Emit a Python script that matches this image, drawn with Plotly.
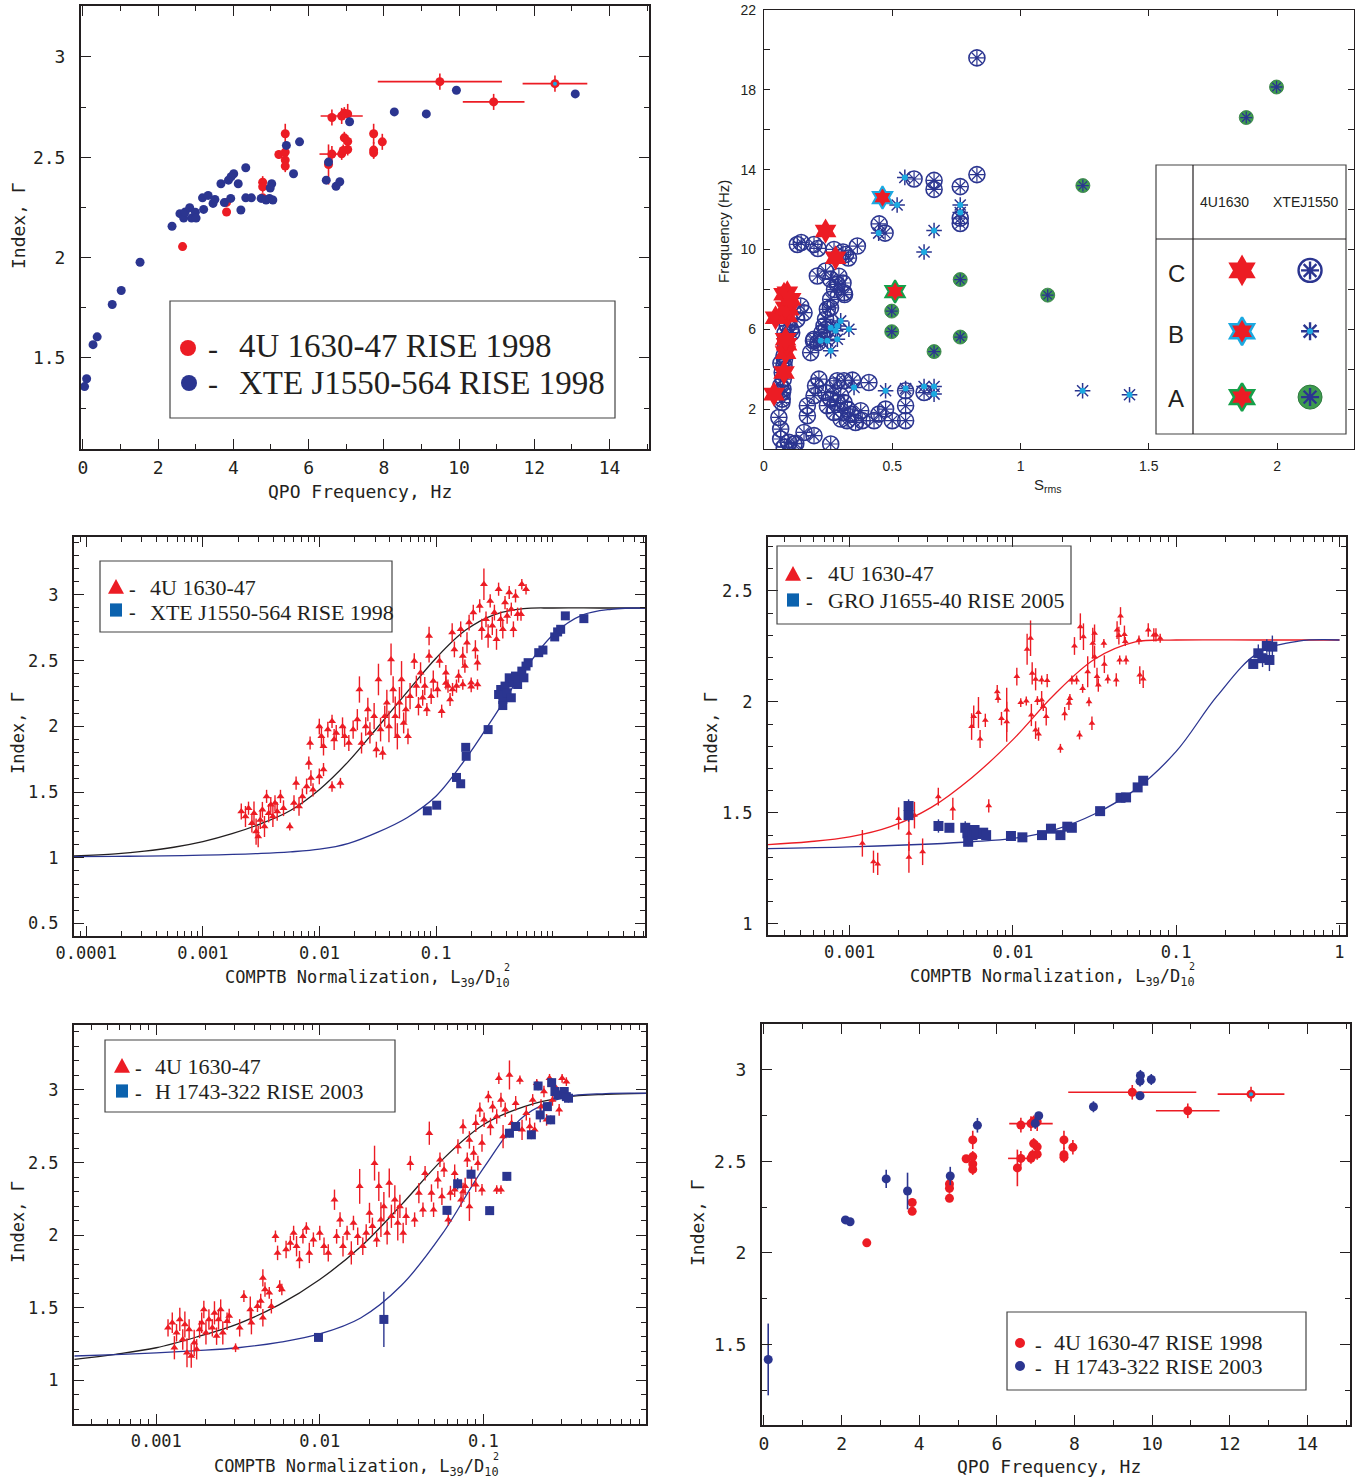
import plotly.graph_objects as go

W, H = 1360, 1480
INK = "#231F20"
RED = "#EC1C24"
NAVY = "#2B3590"
LEG_BLUE = "#0B62AE"
CYAN = "#1BA9E1"
GREEN = "#3E9B4F"
MONO = "DejaVu Sans Mono"
SERIF = "Liberation Serif"
SANS = "Liberation Sans"

# ---------------------------------------------------------------------------
# QPO frequency (Hz), photon index, x-error, y-error : 4U 1630-47 rise 1998
QPO_4U1630 = [
    (9.49, 2.877, 1.65, 0.04), (12.55, 2.867, 0.86, 0.04), (10.92, 2.776, 0.82, 0.04),
    (6.62, 2.698, 0.0, 0.04), (6.88, 2.706, 0.56, 0.04), (7.04, 2.716, 0.0, 0.05),
    (6.95, 2.720, 0.0, 0.03), (6.62, 2.516, 0.33, 0.04), (6.53, 2.464, 0.0, 0.10),
    (6.88, 2.517, 0.0, 0.03), (6.95, 2.597, 0.0, 0.03), (7.04, 2.579, 0.0, 0.03),
    (7.04, 2.539, 0.0, 0.03), (6.92, 2.534, 0.0, 0.03), (7.73, 2.617, 0.0, 0.05),
    (7.73, 2.536, 0.0, 0.04), (7.73, 2.522, 0.0, 0.03), (7.96, 2.577, 0.0, 0.04),
    (5.38, 2.617, 0.0, 0.05), (5.21, 2.514, 0.0, 0.02), (5.38, 2.526, 0.0, 0.03),
    (5.38, 2.486, 0.0, 0.03), (5.38, 2.456, 0.0, 0.03), (4.78, 2.376, 0.0, 0.03),
    (4.78, 2.353, 0.0, 0.03), (4.78, 2.298, 0.0, 0.02), (3.82, 2.275, 0.0, 0.02),
    (3.82, 2.227, 0.0, 0.02), (2.65, 2.055, 0.0, 0.02),
]
QPO_CYAN = [(12.55, 2.867)]

# XTE J1550-564 rise 1998 : QPO frequency (Hz), photon index
QPO_J1550 = [
    (0.045, 1.357), (0.10, 1.396), (0.27, 1.566), (0.38, 1.605), (0.78, 1.766),
    (1.02, 1.836), (1.52, 1.977), (2.37, 2.156), (2.58, 2.219), (2.68, 2.197),
    (2.72, 2.227), (2.84, 2.249), (2.89, 2.197), (2.99, 2.226), (3.01, 2.197),
    (3.18, 2.298), (3.21, 2.240), (3.33, 2.310), (3.46, 2.270), (3.51, 2.290),
    (3.67, 2.368), (3.76, 2.274), (3.87, 2.386), (3.94, 2.403), (3.93, 2.295),
    (4.01, 2.418), (4.13, 2.368), (4.20, 2.237), (4.33, 2.448), (4.33, 2.298),
    (4.48, 2.298), (4.74, 2.295), (4.87, 2.287), (4.96, 2.295), (5.02, 2.368),
    (4.98, 2.347), (5.05, 2.287), (5.41, 2.559), (5.60, 2.418), (5.76, 2.577),
    (6.47, 2.386), (6.53, 2.476), (6.73, 2.355), (6.83, 2.378), (7.09, 2.677),
    (8.28, 2.726), (9.13, 2.716), (9.93, 2.834), (13.09, 2.816),
]

# H 1743-322 rise 2003 : QPO frequency (Hz), photon index, y-error
QPO_H1743 = [
    (0.11, 1.418, 0.196), (2.10, 2.180, 0.02), (2.22, 2.170, 0.01), (3.15, 2.404, 0.05),
    (3.70, 2.338, 0.10), (4.80, 2.420, 0.05), (5.50, 2.697, 0.04), (6.99, 2.707, 0.03),
    (7.08, 2.749, 0.02), (8.49, 2.798, 0.03), (9.69, 2.858, 0.01), (9.69, 2.938, 0.03),
    (9.70, 2.969, 0.03), (9.98, 2.947, 0.03),
]

# S_rms versus QPO frequency (Hz), states A / B / C
SRMS_C_4U = [
    (0.039, 2.75), (0.078, 3.83), (0.084, 4.83), (0.088, 5.25), (0.084, 5.50),
    (0.045, 6.58), (0.091, 6.67), (0.097, 7.00), (0.084, 7.08), (0.091, 7.83),
    (0.078, 7.75), (0.104, 7.50), (0.279, 9.58), (0.240, 10.92),
]
SRMS_B_4U = [(0.462, 12.60)]
SRMS_A_4U = [(0.511, 7.89)]
SRMS_C_XTE = [
    (0.830, 19.60), (0.830, 13.75), (0.585, 13.53), (0.663, 13.46), (0.663, 13.01),
    (0.765, 13.15), (0.765, 11.57), (0.765, 11.30), (0.449, 11.28), (0.472, 10.82),
    (0.130, 10.25), (0.145, 10.35), (0.195, 10.25), (0.210, 10.05), (0.273, 10.00),
    (0.308, 9.87), (0.318, 9.75), (0.329, 9.57), (0.364, 10.17),
    (0.208, 8.67), (0.240, 8.92), (0.260, 8.50), (0.286, 8.25), (0.292, 8.66),
    (0.308, 8.32), (0.312, 7.83), (0.275, 7.99), (0.314, 7.74), (0.260, 7.50),
    (0.247, 7.00), (0.259, 7.07), (0.240, 6.50), (0.234, 6.17), (0.242, 5.99),
    (0.226, 5.83), (0.195, 5.50), (0.193, 5.41), (0.182, 4.83), (0.210, 5.33),
    (0.143, 7.17), (0.156, 6.83), (0.128, 6.49), (0.104, 6.00), (0.108, 5.83),
    (0.084, 5.50), (0.078, 4.67), (0.071, 3.83), (0.065, 3.17), (0.071, 2.50),
    (0.072, 2.83), (0.075, 3.50), (0.078, 4.16), (0.080, 4.50), (0.085, 5.16),
    (0.070, 2.33), (0.066, 4.30), (0.074, 3.00), (0.082, 5.80), (0.090, 6.20),
    (0.058, 1.58), (0.065, 1.00), (0.065, 0.50), (0.097, 0.33), (0.117, 0.25),
    (0.079, 0.09), (0.156, 0.83), (0.195, 0.67), (0.260, 0.25), (0.124, 0.28),
    (0.169, 2.17), (0.169, 1.67), (0.201, 3.17), (0.214, 3.50), (0.195, 2.67),
    (0.240, 2.83), (0.260, 2.50), (0.273, 3.17), (0.286, 3.42), (0.312, 3.42),
    (0.299, 2.67), (0.312, 2.33), (0.325, 2.00), (0.338, 1.75), (0.357, 1.33),
    (0.377, 1.92), (0.383, 1.42), (0.409, 3.33), (0.429, 1.42), (0.448, 1.75),
    (0.474, 2.00), (0.500, 1.42), (0.552, 2.92), (0.552, 2.17), (0.552, 1.42),
    (0.624, 2.83), (0.273, 1.83), (0.286, 2.33), (0.247, 2.17), (0.300, 1.50),
    (0.324, 1.42), (0.345, 3.45),
]
SRMS_B_XTE = [
    (0.260, 6.08), (0.286, 6.17), (0.299, 6.42), (0.331, 6.00), (0.279, 5.92),
    (0.221, 5.42), (0.247, 5.42), (0.286, 5.50), (0.260, 4.92), (0.351, 3.08),
    (0.474, 2.92), (0.552, 3.03), (0.624, 3.13), (0.663, 3.13), (0.663, 2.75),
    (0.624, 9.87), (0.519, 12.23), (0.765, 12.23), (0.765, 11.85), (0.663, 10.95),
    (0.447, 10.82), (1.242, 2.92), (1.425, 2.72), (0.549, 13.61),
]
SRMS_A_XTE = [
    (1.998, 18.14), (1.880, 16.61), (1.243, 13.20), (1.106, 7.71), (0.765, 8.49),
    (0.765, 5.61), (0.498, 6.91), (0.498, 5.88), (0.663, 4.88),
]

# COMPTB normalisation (log10 L39/D10^2), photon index, y-error
NORM_4U_A = [
    (-2.671, 1.352, 0.06), (-2.635, 1.314, 0.08), (-2.609, 1.377, 0.05), (-2.580, 1.263, 0.07),
    (-2.562, 1.339, 0.09), (-2.544, 1.199, 0.10), (-2.526, 1.161, 0.08), (-2.508, 1.288, 0.07),
    (-2.490, 1.365, 0.06), (-2.472, 1.238, 0.08), (-2.454, 1.467, 0.05), (-2.436, 1.339, 0.07),
    (-2.418, 1.403, 0.06), (-2.400, 1.314, 0.08), (-2.382, 1.416, 0.06), (-2.363, 1.352, 0.07),
    (-2.335, 1.467, 0.05), (-2.309, 1.377, 0.06), (-2.255, 1.238, 0.03), (-2.219, 1.416, 0.06),
    (-2.201, 1.568, 0.05), (-2.176, 1.390, 0.07), (-2.147, 1.467, 0.06), (-2.111, 1.543, 0.06),
    (-2.092, 1.721, 0.05), (-2.074, 1.606, 0.06), (-2.056, 1.517, 0.05), (-2.081, 1.873, 0.05),
    (-2.002, 1.998, 0.06), (-1.984, 1.924, 0.08), (-1.966, 1.848, 0.07), (-1.929, 1.975, 0.06),
    (-1.893, 2.038, 0.05), (-1.875, 1.899, 0.08), (-1.857, 1.950, 0.06), (-1.821, 1.568, 0.04),
    (-1.803, 1.998, 0.07), (-1.785, 1.924, 0.08), (-1.749, 1.873, 0.06), (-1.712, 1.975, 0.07),
    (-1.676, 2.051, 0.08), (-1.658, 2.280, 0.10), (-1.640, 1.873, 0.08), (-1.604, 1.998, 0.07),
    (-1.586, 2.128, 0.09), (-1.568, 1.950, 0.08), (-1.532, 2.077, 0.10), (-1.513, 1.823, 0.06),
    (-1.495, 2.356, 0.12), (-1.477, 1.975, 0.09), (-1.459, 1.797, 0.05), (-1.441, 2.077, 0.08),
    (-1.423, 2.179, 0.10), (-1.405, 1.998, 0.12), (-1.387, 2.509, 0.12), (-1.369, 2.280, 0.10),
    (-1.351, 2.077, 0.15), (-1.333, 1.924, 0.10), (-1.315, 2.179, 0.12), (-1.297, 2.356, 0.14),
    (-1.279, 2.026, 0.08), (-1.260, 2.128, 0.10), (-1.242, 1.924, 0.06), (-1.224, 2.229, 0.10),
    (-1.188, 2.496, 0.06), (-1.170, 2.306, 0.08), (-1.152, 2.153, 0.07), (-1.134, 2.407, 0.08),
    (-1.116, 2.217, 0.06), (-1.098, 2.306, 0.07), (-1.080, 2.128, 0.05), (-1.061, 2.687, 0.07),
    (-1.061, 2.535, 0.05), (-1.043, 2.229, 0.06), (-1.025, 2.344, 0.08), (-0.989, 2.280, 0.06),
    (-0.971, 2.496, 0.05), (-0.953, 2.115, 0.05), (-0.917, 2.407, 0.06), (-0.899, 2.306, 0.05),
    (-0.881, 2.204, 0.05), (-0.863, 2.713, 0.07), (-0.844, 2.585, 0.06), (-0.826, 2.306, 0.05),
    (-0.808, 2.382, 0.05), (-0.790, 2.738, 0.06), (-0.772, 2.535, 0.07), (-0.754, 2.458, 0.05),
    (-0.736, 2.636, 0.08), (-0.718, 2.789, 0.06), (-0.700, 2.331, 0.04), (-0.682, 2.865, 0.06),
    (-0.664, 2.585, 0.07), (-0.646, 2.484, 0.06), (-0.627, 2.916, 0.05), (-0.609, 2.738, 0.08),
    (-0.591, 3.081, 0.12), (-0.573, 2.814, 0.06), (-0.555, 2.687, 0.09), (-0.537, 2.954, 0.05),
    (-0.519, 2.764, 0.07), (-0.501, 2.865, 0.06), (-0.483, 2.662, 0.08), (-0.465, 3.043, 0.05),
    (-0.447, 2.814, 0.06), (-0.429, 2.738, 0.07), (-0.410, 2.941, 0.05), (-0.392, 2.840, 0.06),
    (-0.374, 3.018, 0.05), (-0.356, 2.891, 0.05), (-0.338, 2.738, 0.06), (-0.320, 2.992, 0.05),
    (-0.302, 2.853, 0.05), (-0.266, 3.081, 0.04), (-0.230, 3.043, 0.04), (-0.273, 2.853, 0.05),
    (-0.772, 2.318, 0.04), (-0.646, 2.318, 0.04), (-0.917, 2.330, 0.05), (-1.966, 1.671, 0.05),
    (-2.002, 1.619, 0.06), (-1.893, 1.543, 0.04), (-0.700, 2.300, 0.04), (-0.860, 2.280, 0.05),
]
NORM_J1550 = [
    (-1.076, 1.357), (-0.996, 1.400), (-0.826, 1.611), (-0.790, 1.563), (-0.747, 1.840),
    (-0.743, 1.772), (-0.555, 1.975), (-0.465, 2.242), (-0.447, 2.280), (-0.429, 2.204),
    (-0.429, 2.158), (-0.410, 2.306), (-0.392, 2.255), (-0.374, 2.369), (-0.356, 2.217),
    (-0.338, 2.331), (-0.320, 2.382), (-0.302, 2.318), (-0.266, 2.420), (-0.248, 2.369),
    (-0.230, 2.458), (-0.212, 2.484), (-0.121, 2.560), (-0.085, 2.580), (0.016, 2.680),
    (0.041, 2.718), (0.067, 2.738), (0.107, 2.840), (0.266, 2.819),
]
# fitted curves, sampled along log10 normalisation
FIT_4U_A = [
    (-4.11, 1.014), (-3.75, 1.030), (-3.5, 1.050), (-3.25, 1.080), (-3.0, 1.123),
    (-2.75, 1.183), (-2.5, 1.260), (-2.25, 1.360), (-2.0, 1.520), (-1.75, 1.735),
    (-1.5, 1.995), (-1.25, 2.260), (-1.0, 2.520), (-0.75, 2.730), (-0.5, 2.850),
    (-0.25, 2.895), (0.0, 2.900), (0.4, 2.900), (0.79, 2.900),
]
FIT_J1550 = [
    (-4.11, 1.009), (-3.75, 1.011), (-3.5, 1.013), (-3.0, 1.020), (-2.5, 1.033),
    (-2.25, 1.045), (-2.0, 1.065), (-1.75, 1.110), (-1.5, 1.195), (-1.25, 1.305),
    (-1.0, 1.470), (-0.75, 1.750), (-0.5, 2.080), (-0.25, 2.420), (0.0, 2.695),
    (0.25, 2.845), (0.5, 2.890), (0.79, 2.900),
]

NORM_4U_B = [
    (-2.922, 1.363, 0.06), (-2.854, 1.280, 0.05), (-2.828, 1.270, 0.05), (-2.700, 1.475, 0.05),
    (-2.637, 1.408, 0.08), (-2.637, 1.300, 0.07), (-2.603, 1.490, 0.06), (-2.553, 1.325, 0.06),
    (-2.457, 1.573, 0.04), (-2.368, 1.518, 0.05), (-2.253, 1.889, 0.06), (-2.240, 1.934, 0.05),
    (-2.211, 1.952, 0.07), (-2.201, 1.833, 0.04), (-2.169, 1.917, 0.03), (-2.148, 1.532, 0.03),
    (-2.096, 2.046, 0.03), (-2.091, 2.016, 0.02), (-2.070, 1.925, 0.03), (-2.038, 1.964, 0.10),
    (-2.038, 1.911, 0.09), (-1.976, 2.114, 0.04), (-1.952, 1.997, 0.02), (-1.918, 2.004, 0.02),
    (-1.913, 2.237, 0.07), (-1.892, 2.287, 0.08), (-1.887, 1.941, 0.05), (-1.882, 2.129, 0.05),
    (-1.861, 2.102, 0.05), (-1.861, 1.873, 0.04), (-1.850, 2.006, 0.02), (-1.843, 1.855, 0.03),
    (-1.824, 2.099, 0.02), (-1.824, 2.009, 0.04), (-1.814, 1.979, 0.02), (-1.790, 2.096, 0.03),
    (-1.796, 1.934, 0.04), (-1.709, 1.791, 0.02), (-1.683, 1.947, 0.03), (-1.657, 1.994, 0.03),
    (-1.651, 2.016, 0.02), (-1.639, 2.099, 0.02), (-1.623, 2.252, 0.04), (-1.610, 2.099, 0.02),
    (-1.592, 1.851, 0.02), (-1.587, 2.339, 0.06), (-1.573, 2.061, 0.02), (-1.568, 2.294, 0.06),
    (-1.542, 2.136, 0.07), (-1.534, 2.001, 0.02), (-1.516, 1.904, 0.03), (-1.511, 2.264, 0.07),
    (-1.500, 2.309, 0.04), (-1.500, 2.204, 0.05), (-1.485, 2.114, 0.04), (-1.477, 2.076, 0.03),
    (-1.443, 2.264, 0.02), (-1.419, 2.103, 0.02), (-1.367, 2.099, 0.03), (-1.362, 2.324, 0.04),
    (-1.351, 2.299, 0.04), (-1.346, 2.189, 0.02), (-1.341, 2.387, 0.04), (-1.317, 2.304, 0.04),
    (-1.312, 2.272, 0.02), (-1.307, 2.189, 0.02), (-1.228, 2.279, 0.02), (-1.223, 2.121, 0.04),
    (-1.202, 2.103, 0.04), (-1.171, 2.324, 0.03), (-1.137, 2.302, 0.03), (-1.124, 2.302, 0.03),
    (-1.098, 2.287, 0.02), (-1.440, 2.170, 0.04),
]
NORM_J1655 = [
    (-2.639, 1.531, 0.03), (-2.639, 1.490, 0.03), (-2.456, 1.441, 0.03), (-2.389, 1.433, 0.01),
    (-2.292, 1.433, 0.03), (-2.279, 1.408, 0.02), (-2.274, 1.370, 0.02), (-2.261, 1.415, 0.02),
    (-2.247, 1.400, 0.02), (-2.235, 1.423, 0.02), (-2.221, 1.405, 0.02), (-2.182, 1.411, 0.01),
    (-2.164, 1.400, 0.01), (-2.012, 1.396, 0.01), (-1.942, 1.390, 0.01), (-1.822, 1.400, 0.01),
    (-1.767, 1.429, 0.01), (-1.709, 1.400, 0.02), (-1.667, 1.438, 0.01), (-1.639, 1.433, 0.01),
    (-1.466, 1.508, 0.01), (-1.341, 1.568, 0.01), (-1.307, 1.570, 0.01), (-1.236, 1.615, 0.01),
    (-1.202, 1.645, 0.01), (-0.528, 2.171, 0.02), (-0.497, 2.219, 0.04), (-0.471, 2.197, 0.04),
    (-0.445, 2.252, 0.03), (-0.429, 2.189, 0.05), (-0.411, 2.249, 0.05),
]
FIT_4U_B = [
    (-3.5, 1.357), (-3.25, 1.370), (-3.0, 1.392), (-2.75, 1.438), (-2.5, 1.525),
    (-2.25, 1.660), (-2.0, 1.830), (-1.75, 2.030), (-1.5, 2.192), (-1.25, 2.270),
    (-1.0, 2.279), (-0.5, 2.279), (0.0, 2.279),
]
FIT_J1655 = [
    (-3.5, 1.339), (-3.0, 1.347), (-2.5, 1.360), (-2.25, 1.370), (-2.0, 1.385),
    (-1.75, 1.423), (-1.5, 1.495), (-1.25, 1.605), (-1.0, 1.777), (-0.75, 2.026),
    (-0.5, 2.220), (-0.25, 2.274), (0.0, 2.279),
]

NORM_4U_C = [
    (-2.928, 1.362, 0.06), (-2.902, 1.397, 0.07), (-2.889, 1.225, 0.08), (-2.876, 1.328, 0.06),
    (-2.856, 1.420, 0.08), (-2.838, 1.282, 0.07), (-2.825, 1.385, 0.09), (-2.812, 1.191, 0.10),
    (-2.799, 1.351, 0.07), (-2.786, 1.168, 0.08), (-2.768, 1.259, 0.09), (-2.753, 1.214, 0.07),
    (-2.735, 1.351, 0.06), (-2.722, 1.397, 0.07), (-2.709, 1.488, 0.06), (-2.696, 1.328, 0.08),
    (-2.678, 1.420, 0.07), (-2.657, 1.362, 0.06), (-2.644, 1.465, 0.08), (-2.631, 1.305, 0.06),
    (-2.619, 1.420, 0.07), (-2.606, 1.488, 0.07), (-2.593, 1.328, 0.08), (-2.567, 1.408, 0.06),
    (-2.554, 1.443, 0.05), (-2.515, 1.225, 0.03), (-2.490, 1.362, 0.06), (-2.464, 1.580, 0.04),
    (-2.425, 1.488, 0.09), (-2.418, 1.397, 0.08), (-2.381, 1.511, 0.04), (-2.361, 1.546, 0.05),
    (-2.348, 1.431, 0.06), (-2.348, 1.706, 0.06), (-2.335, 1.626, 0.05), (-2.309, 1.603, 0.04),
    (-2.296, 1.511, 0.05), (-2.271, 1.992, 0.04), (-2.258, 1.878, 0.05), (-2.245, 1.649, 0.04),
    (-2.232, 1.626, 0.04), (-2.206, 1.901, 0.06), (-2.180, 1.946, 0.05), (-2.160, 2.015, 0.05),
    (-2.142, 1.924, 0.07), (-2.124, 1.832, 0.06), (-2.103, 1.992, 0.05), (-2.082, 2.049, 0.04),
    (-2.064, 1.878, 0.07), (-2.039, 1.969, 0.05), (-2.000, 2.015, 0.05), (-1.974, 1.924, 0.06),
    (-1.948, 1.878, 0.06), (-1.910, 2.244, 0.07), (-1.897, 1.992, 0.05), (-1.876, 2.107, 0.05),
    (-1.858, 1.924, 0.07), (-1.833, 2.015, 0.05), (-1.807, 1.878, 0.08), (-1.794, 2.084, 0.05),
    (-1.768, 1.992, 0.06), (-1.756, 2.336, 0.12), (-1.737, 1.924, 0.06), (-1.716, 2.015, 0.06),
    (-1.696, 2.153, 0.07), (-1.678, 2.061, 0.06), (-1.665, 2.496, 0.12), (-1.652, 1.969, 0.05),
    (-1.639, 2.336, 0.10), (-1.626, 2.107, 0.12), (-1.608, 2.198, 0.10), (-1.588, 2.015, 0.08),
    (-1.575, 2.359, 0.10), (-1.562, 2.130, 0.08), (-1.541, 2.244, 0.10), (-1.523, 2.084, 0.12),
    (-1.510, 2.198, 0.08), (-1.490, 2.015, 0.07), (-1.472, 2.130, 0.06), (-1.446, 2.496, 0.05),
    (-1.420, 2.107, 0.05), (-1.394, 2.290, 0.07), (-1.369, 2.175, 0.05), (-1.356, 2.427, 0.05),
    (-1.330, 2.702, 0.08), (-1.317, 2.290, 0.06), (-1.304, 2.175, 0.05), (-1.278, 2.382, 0.06),
    (-1.265, 2.519, 0.05), (-1.253, 2.267, 0.06), (-1.240, 2.450, 0.05), (-1.214, 2.107, 0.04),
    (-1.201, 2.290, 0.05), (-1.175, 2.427, 0.06), (-1.155, 2.611, 0.05), (-1.136, 2.244, 0.05),
    (-1.124, 2.748, 0.05), (-1.111, 2.336, 0.06), (-1.098, 2.519, 0.05), (-1.085, 2.656, 0.06),
    (-1.072, 2.404, 0.07), (-1.059, 2.565, 0.05), (-1.046, 2.771, 0.06), (-1.033, 2.496, 0.05),
    (-1.021, 2.863, 0.05), (-1.008, 2.634, 0.06), (-0.995, 2.794, 0.05), (-0.969, 2.954, 0.04),
    (-0.956, 2.748, 0.06), (-0.943, 2.885, 0.04), (-0.918, 2.817, 0.05), (-0.905, 3.080, 0.04),
    (-0.892, 2.931, 0.05), (-0.879, 2.679, 0.08), (-0.866, 2.863, 0.05), (-0.840, 3.103, 0.10),
    (-0.827, 2.771, 0.06), (-0.802, 2.908, 0.05), (-0.776, 3.069, 0.03), (-0.763, 2.725, 0.07),
    (-0.737, 2.840, 0.05), (-0.716, 2.748, 0.06), (-0.698, 2.931, 0.04), (-0.686, 2.725, 0.05),
    (-0.673, 3.046, 0.03), (-0.647, 2.885, 0.05), (-0.629, 2.989, 0.04), (-0.613, 2.794, 0.04),
    (-0.595, 3.080, 0.03), (-0.577, 2.931, 0.04), (-0.562, 3.023, 0.03), (-0.536, 2.863, 0.04),
    (-0.518, 3.080, 0.03), (-0.492, 3.057, 0.03), (-1.175, 2.313, 0.05), (-1.124, 2.301, 0.06),
    (-1.085, 2.198, 0.10), (-1.046, 2.347, 0.05), (-1.008, 2.313, 0.04), (-0.918, 2.313, 0.03),
    (-0.892, 2.313, 0.03),
]
NORM_H1743 = [
    (-2.008, 1.296, 0.02), (-1.608, 1.420, 0.19), (-1.222, 2.171, 0.03), (-1.157, 2.354, 0.04),
    (-1.075, 2.420, 0.03), (-0.961, 2.169, 0.03), (-0.856, 2.405, 0.03), (-0.840, 2.702, 0.03),
    (-0.802, 2.748, 0.03), (-0.706, 2.691, 0.03), (-0.665, 3.027, 0.03), (-0.652, 2.828, 0.05),
    (-0.608, 2.885, 0.03), (-0.588, 2.794, 0.03), (-0.582, 3.050, 0.03), (-0.562, 2.989, 0.03),
    (-0.544, 2.966, 0.03), (-0.505, 2.989, 0.03), (-0.492, 2.954, 0.03), (-0.479, 2.943, 0.03),
]
FIT_4U_C = [
    (-3.5, 1.145), (-3.25, 1.180), (-3.0, 1.225), (-2.75, 1.300), (-2.5, 1.390),
    (-2.25, 1.520), (-2.0, 1.695), (-1.75, 1.920), (-1.5, 2.210), (-1.25, 2.520),
    (-1.0, 2.760), (-0.75, 2.885), (-0.5, 2.950), (-0.25, 2.970), (0.0, 2.977),
]
FIT_H1743 = [
    (-3.5, 1.168), (-3.25, 1.178), (-3.0, 1.190), (-2.75, 1.205), (-2.5, 1.225),
    (-2.25, 1.262), (-2.0, 1.320), (-1.75, 1.430), (-1.5, 1.655), (-1.25, 2.010),
    (-1.0, 2.460), (-0.75, 2.820), (-0.5, 2.950), (-0.25, 2.975), (0.0, 2.977),
]


# ---------------------------------------------------------------------------
def col(rows, i):
    return [r[i] for r in rows]


def lin(rows, i):
    return [10 ** r[i] for r in rows]


def px(x):
    return x / W


def py(y):
    return 1 - y / H


def dom_x(l, r):
    return [l / W, r / W]


def dom_y(t, b):
    return [1 - b / H, 1 - t / H]


def frame_axis(domain, rng, anchor, vals, texts, minor, size=17, standoff=6, **kw):
    ax = dict(domain=domain, range=rng, anchor=anchor, showline=True, linewidth=2,
              linecolor=INK, mirror="allticks", ticks="inside", ticklen=10, tickwidth=1.4,
              tickcolor=INK, tickmode="array", tickvals=vals, ticktext=texts,
              showgrid=False, zeroline=False, ticklabelstandoff=standoff, automargin=False,
              tickfont=dict(family=MONO, size=size, color=INK))
    ax["minor"] = dict(ticks="inside", ticklen=5, tickwidth=1.2, tickcolor=INK, **minor)
    ax.update(kw)
    return ax


LOG_MINOR = [m * 10 ** e for e in range(-5, 1) for m in range(2, 10)]

fig = go.Figure()

# ---------------- panel 1 : QPO frequency vs index (4U 1630 / J1550) -------
fig.add_trace(go.Scatter(
    x=col(QPO_4U1630, 0), y=col(QPO_4U1630, 1), mode="markers", xaxis="x", yaxis="y",
    marker=dict(symbol="circle", size=9, color=RED),
    error_x=dict(type="data", array=col(QPO_4U1630, 2), color=RED, thickness=1.6, width=0),
    error_y=dict(type="data", array=col(QPO_4U1630, 3), color=RED, thickness=1.6, width=0)))
fig.add_trace(go.Scatter(
    x=col(QPO_J1550, 0), y=col(QPO_J1550, 1), mode="markers", xaxis="x", yaxis="y",
    marker=dict(symbol="circle", size=9, color=NAVY)))
fig.add_trace(go.Scatter(
    x=col(QPO_CYAN, 0), y=col(QPO_CYAN, 1), mode="markers", xaxis="x", yaxis="y",
    marker=dict(symbol="circle", size=4, color=CYAN)))

# ---------------- panel 2 : S_rms vs frequency ------------------------------
fig.add_trace(go.Scatter(
    x=col(SRMS_C_XTE, 0), y=col(SRMS_C_XTE, 1), mode="markers", xaxis="x2", yaxis="y2",
    marker=dict(symbol="circle-open", size=16, color=NAVY, line=dict(width=1.6, color=NAVY))))
fig.add_trace(go.Scatter(
    x=col(SRMS_C_XTE, 0), y=col(SRMS_C_XTE, 1), mode="markers", xaxis="x2", yaxis="y2",
    marker=dict(symbol="asterisk-open", size=12, color=NAVY, line=dict(width=1.2, color=NAVY))))
fig.add_trace(go.Scatter(
    x=col(SRMS_B_XTE, 0), y=col(SRMS_B_XTE, 1), mode="markers", xaxis="x2", yaxis="y2",
    marker=dict(symbol="asterisk-open", size=13, color=NAVY, line=dict(width=1.5, color=NAVY))))
fig.add_trace(go.Scatter(
    x=col(SRMS_B_XTE, 0), y=col(SRMS_B_XTE, 1), mode="markers", xaxis="x2", yaxis="y2",
    marker=dict(symbol="circle", size=6, color=CYAN)))
fig.add_trace(go.Scatter(
    x=col(SRMS_A_XTE, 0), y=col(SRMS_A_XTE, 1), mode="markers", xaxis="x2", yaxis="y2",
    marker=dict(symbol="circle", size=14, color=GREEN, line=dict(width=0.8, color="#2E7A3E"))))
fig.add_trace(go.Scatter(
    x=col(SRMS_A_XTE, 0), y=col(SRMS_A_XTE, 1), mode="markers", xaxis="x2", yaxis="y2",
    marker=dict(symbol="asterisk-open", size=10, color=NAVY, line=dict(width=1.3, color=NAVY))))
fig.add_trace(go.Scatter(
    x=col(SRMS_C_4U, 0), y=col(SRMS_C_4U, 1), mode="markers", xaxis="x2", yaxis="y2",
    marker=dict(symbol="hexagram", size=19, color=RED, line=dict(width=0))))
fig.add_trace(go.Scatter(
    x=col(SRMS_B_4U, 0), y=col(SRMS_B_4U, 1), mode="markers", xaxis="x2", yaxis="y2",
    marker=dict(symbol="hexagram", size=17, color=RED, line=dict(width=2, color=CYAN))))
fig.add_trace(go.Scatter(
    x=col(SRMS_A_4U, 0), y=col(SRMS_A_4U, 1), mode="markers", xaxis="x2", yaxis="y2",
    marker=dict(symbol="hexagram", size=17, color=RED, line=dict(width=2, color="#16A04A"))))


# key table of panel 2 (cell centres in data units)
def s_x(p):
    return (p - 764) / 256.5


def s_y(p):
    return 22 - (p - 10) / 20.0


KEY_ROWS = [271, 332, 398]
KEY_4U_X, KEY_XTE_X = 1242, 1310
fig.add_trace(go.Scatter(x=[s_x(KEY_4U_X)], y=[s_y(KEY_ROWS[0])], mode="markers", xaxis="x2", yaxis="y2",
                         marker=dict(symbol="hexagram", size=24, color=RED)))
fig.add_trace(go.Scatter(x=[s_x(KEY_4U_X)], y=[s_y(KEY_ROWS[1])], mode="markers", xaxis="x2", yaxis="y2",
                         marker=dict(symbol="hexagram", size=21, color=RED, line=dict(width=2.5, color=CYAN))))
fig.add_trace(go.Scatter(x=[s_x(KEY_4U_X)], y=[s_y(KEY_ROWS[2])], mode="markers", xaxis="x2", yaxis="y2",
                         marker=dict(symbol="hexagram", size=21, color=RED, line=dict(width=2.5, color="#16A04A"))))
fig.add_trace(go.Scatter(x=[s_x(KEY_XTE_X)], y=[s_y(KEY_ROWS[0])], mode="markers", xaxis="x2", yaxis="y2",
                         marker=dict(symbol="circle-open", size=23, color=NAVY, line=dict(width=2.4, color=NAVY))))
fig.add_trace(go.Scatter(x=[s_x(KEY_XTE_X)], y=[s_y(KEY_ROWS[2])], mode="markers", xaxis="x2", yaxis="y2",
                         marker=dict(symbol="circle", size=24, color=GREEN, line=dict(width=1, color="#2E7A3E"))))
fig.add_trace(go.Scatter(x=[s_x(KEY_XTE_X)] * 3, y=[s_y(v) for v in KEY_ROWS], mode="markers", xaxis="x2", yaxis="y2",
                         marker=dict(symbol="asterisk-open", size=15, color=NAVY, line=dict(width=2.4, color=NAVY))))
fig.add_trace(go.Scatter(x=[s_x(KEY_XTE_X)], y=[s_y(KEY_ROWS[1])], mode="markers", xaxis="x2", yaxis="y2",
                         marker=dict(symbol="circle", size=6, color=CYAN)))


# ---------------- panels 3-5 : COMPTB normalisation vs index ---------------
def norm_panel(xa, ya, red_rows, blue_rows, red_fit, blue_fit, red_fit_color, blue_err,
               tri_size=7, sq_size=9):
    fig.add_trace(go.Scatter(x=lin(red_fit, 0), y=col(red_fit, 1), mode="lines", xaxis=xa, yaxis=ya,
                             line=dict(color=red_fit_color, width=1.3, shape="spline", smoothing=1.0)))
    fig.add_trace(go.Scatter(x=lin(blue_fit, 0), y=col(blue_fit, 1), mode="lines", xaxis=xa, yaxis=ya,
                             line=dict(color=NAVY, width=1.3, shape="spline", smoothing=1.0)))
    fig.add_trace(go.Scatter(
        x=lin(red_rows, 0), y=col(red_rows, 1), mode="markers", xaxis=xa, yaxis=ya,
        marker=dict(symbol="triangle-up", size=tri_size, color=RED, line=dict(width=0)),
        error_y=dict(type="data", array=col(red_rows, 2), color=RED, thickness=1.4, width=0)))
    blue = dict(x=lin(blue_rows, 0), y=col(blue_rows, 1), mode="markers", xaxis=xa, yaxis=ya,
                marker=dict(symbol="square", size=sq_size, color=NAVY, line=dict(width=0)))
    if blue_err:
        blue["error_y"] = dict(type="data", array=col(blue_rows, 2), color=NAVY, thickness=1.4, width=0)
    fig.add_trace(go.Scatter(**blue))


norm_panel("x3", "y3", NORM_4U_A, NORM_J1550, FIT_4U_A, FIT_J1550, INK, False, tri_size=7, sq_size=9)
norm_panel("x4", "y4", NORM_4U_B, NORM_J1655, FIT_4U_B, FIT_J1655, RED, True, tri_size=6, sq_size=10)
norm_panel("x5", "y5", NORM_4U_C, NORM_H1743, FIT_4U_C, FIT_H1743, INK, True, tri_size=7, sq_size=9)

# ---------------- panel 6 : QPO frequency vs index (4U 1630 / H1743) -------
fig.add_trace(go.Scatter(
    x=col(QPO_4U1630, 0), y=col(QPO_4U1630, 1), mode="markers", xaxis="x6", yaxis="y6",
    marker=dict(symbol="circle", size=9, color=RED),
    error_x=dict(type="data", array=col(QPO_4U1630, 2), color=RED, thickness=1.6, width=0),
    error_y=dict(type="data", array=col(QPO_4U1630, 3), color=RED, thickness=1.6, width=0)))
fig.add_trace(go.Scatter(
    x=col(QPO_H1743, 0), y=col(QPO_H1743, 1), mode="markers", xaxis="x6", yaxis="y6",
    marker=dict(symbol="circle", size=9, color=NAVY),
    error_y=dict(type="data", array=col(QPO_H1743, 2), color=NAVY, thickness=1.6, width=0)))
fig.add_trace(go.Scatter(
    x=col(QPO_CYAN, 0), y=col(QPO_CYAN, 1), mode="markers", xaxis="x6", yaxis="y6",
    marker=dict(symbol="circle", size=4, color=CYAN)))

# ---------------- axes -------------------------------------------------------
QPO_X_VALS = [0, 2, 4, 6, 8, 10, 12, 14]
QPO_X_TEXT = [str(v) for v in QPO_X_VALS]


def srms_axis(domain, rng, anchor, vals, texts, minor_vals):
    return dict(domain=domain, range=rng, anchor=anchor, showline=True, linewidth=1.3,
                linecolor=INK, mirror="allticks", ticks="inside", ticklen=6, tickwidth=1,
                tickcolor=INK, tickmode="array", tickvals=vals, ticktext=texts,
                minor=dict(ticks="inside", ticklen=6, tickwidth=1, tickcolor=INK, tickvals=minor_vals),
                showgrid=False, zeroline=False, ticklabelstandoff=4, automargin=False,
                tickfont=dict(family=SANS, size=14, color=INK))


layout = dict(
    width=W, height=H, margin=dict(l=0, r=0, t=0, b=0, autoexpand=False),
    paper_bgcolor="white", plot_bgcolor="white", showlegend=False,
    xaxis=frame_axis(dom_x(81, 649), [-0.05, 15.05], "y", QPO_X_VALS, QPO_X_TEXT,
                     dict(dtick=1, tick0=0), size=18, standoff=1),
    yaxis=frame_axis(dom_y(6, 449), [1.046, 3.254], "x", [1.5, 2, 2.5, 3], ["1.5", "2", "2.5", "3"],
                     dict(dtick=0.25, tick0=0), size=18, standoff=10),
    xaxis2=srms_axis(dom_x(764, 1354), [0, 2.3], "y2", [0, 0.5, 1, 1.5, 2],
                     ["0", "0.5", "1", "1.5", "2"], []),
    yaxis2=srms_axis(dom_y(10, 449), [0, 22], "x2", [2, 6, 10, 14, 18, 22],
                     ["2", "6", "10", "14", "18", "22"], [4, 8, 12, 16, 20]),
    xaxis3=frame_axis(dom_x(74, 645), [-4.105, 0.79], "y3", [1e-4, 1e-3, 1e-2, 1e-1],
                      ["0.0001", "0.001", "0.01", "0.1"], dict(tickvals=LOG_MINOR + [1]),
                      size=17, standoff=1, type="log"),
    yaxis3=frame_axis(dom_y(537, 936), [0.405, 3.44], "x3", [0.5, 1, 1.5, 2, 2.5, 3],
                      ["0.5", "1", "1.5", "2", "2.5", "3"], dict(dtick=0.1, tick0=0),
                      size=17, standoff=10),
    xaxis4=frame_axis(dom_x(768, 1346), [-3.5, 0.04], "y4", [1e-3, 1e-2, 1e-1, 1],
                      ["0.001", "0.01", "0.1", "1"], dict(tickvals=LOG_MINOR),
                      size=17, standoff=1, type="log"),
    yaxis4=frame_axis(dom_y(537, 935), [0.95, 2.743], "x4", [1, 1.5, 2, 2.5],
                      ["1", "1.5", "2", "2.5"], dict(dtick=0.1, tick0=0), size=17, standoff=10),
    xaxis5=frame_axis(dom_x(74, 646), [-3.503, -0.005], "y5", [1e-3, 1e-2, 1e-1],
                      ["0.001", "0.01", "0.1"], dict(tickvals=LOG_MINOR),
                      size=17, standoff=1, type="log"),
    yaxis5=frame_axis(dom_y(1025, 1424), [0.70, 3.447], "x5", [1, 1.5, 2, 2.5, 3],
                      ["1", "1.5", "2", "2.5", "3"], dict(dtick=0.1, tick0=0), size=17, standoff=10),
    xaxis6=frame_axis(dom_x(762, 1350), [-0.05, 15.1], "y6", QPO_X_VALS, QPO_X_TEXT,
                      dict(dtick=1, tick0=0), size=18, standoff=1),
    yaxis6=frame_axis(dom_y(1024, 1425), [1.06, 3.25], "x6", [1.5, 2, 2.5, 3], ["1.5", "2", "2.5", "3"],
                      dict(dtick=0.25, tick0=0), size=18, standoff=10),
)
fig.update_layout(**layout)

# ---------------- titles and keys ---------------------------------------------
ann = []
shapes = []


def text(x, y, s, size, family=MONO, angle=0, anchor="center", color=INK):
    ann.append(dict(x=px(x), y=py(y), xref="paper", yref="paper", text=s, showarrow=False,
                    textangle=angle, xanchor=anchor, yanchor="middle",
                    font=dict(family=family, size=size, color=color)))


NORM_TITLE = "COMPTB Normalization, L<sub>39</sub>/D<sub>10</sub>"
text(360, 491, "QPO Frequency, Hz", 18)
text(18, 226, "Index, \u0393", 18, angle=-90)
text(367, 978, NORM_TITLE, 17)
text(507, 967, "2", 10)
text(18, 733, "Index, \u0393", 17, angle=-90)
text(1052, 977, NORM_TITLE, 17)
text(1192, 966, "2", 10)
text(711, 733, "Index, \u0393", 17, angle=-90)
text(356, 1467, NORM_TITLE, 17)
text(496, 1456, "2", 10)
text(18, 1222, "Index, \u0393", 17, angle=-90)
text(1049, 1466, "QPO Frequency, Hz", 18)
text(697, 1222, "Index, \u0393", 18, angle=-90)
text(724, 232, "Frequency (Hz)", 15, family=SANS, angle=-90)
text(1048, 486, "S<sub>rms</sub>", 15, family=SANS)


def box(x0, y0, x1, y1, width=1.2):
    shapes.append(dict(type="rect", xref="paper", yref="paper", x0=px(x0), x1=px(x1),
                       y0=py(y1), y1=py(y0), line=dict(color="#444444", width=width),
                       fillcolor="rgba(0,0,0,0)"))


def dot(x, y, r, color):
    shapes.append(dict(type="circle", xref="paper", yref="paper", x0=px(x - r), x1=px(x + r),
                       y0=py(y + r), y1=py(y - r), fillcolor=color, line=dict(width=0)))


def tri(x, y, r, color):
    path = "M {} {} L {} {} L {} {} Z".format(px(x - r), py(y + r * 0.85), px(x + r), py(y + r * 0.85),
                                               px(x), py(y - r))
    shapes.append(dict(type="path", xref="paper", yref="paper", path=path, fillcolor=color,
                       line=dict(width=0)))


def sq(x, y, r, color):
    shapes.append(dict(type="rect", xref="paper", yref="paper", x0=px(x - r), x1=px(x + r),
                       y0=py(y + r * 1.1), y1=py(y - r * 1.1), fillcolor=color, line=dict(width=0)))


# panel 1 key
box(170, 301, 615, 418)
dot(188, 348, 8, RED)
dot(189, 383, 8, NAVY)
text(213, 348, "-", 30, family=SERIF)
text(213, 383, "-", 30, family=SERIF)
text(237, 346, "4U 1630-47 RISE 1998", 33, family=SERIF, anchor="left")
text(237, 383, "XTE J1550-564 RISE 1998", 33, family=SERIF, anchor="left")

# panel 3 key
box(100, 561, 392, 632)
tri(116, 587, 8, RED)
sq(116, 610, 6, LEG_BLUE)
text(132, 589, "-", 20, family=SERIF)
text(132, 612, "-", 20, family=SERIF)
text(148, 587, "4U 1630-47", 22, family=SERIF, anchor="left")
text(148, 612, "XTE J1550-564 RISE 1998", 22, family=SERIF, anchor="left")

# panel 4 key
box(777, 546, 1071, 624)
tri(793, 574, 8, RED)
sq(793, 600, 6, LEG_BLUE)
text(809, 576, "-", 20, family=SERIF)
text(809, 602, "-", 20, family=SERIF)
text(826, 574, "4U 1630-47", 22, family=SERIF, anchor="left")
text(826, 600, "GRO J1655-40 RISE 2005", 22, family=SERIF, anchor="left")

# panel 5 key
box(105, 1040, 395, 1112)
tri(122, 1066, 8, RED)
sq(122, 1091, 6, LEG_BLUE)
text(138, 1068, "-", 20, family=SERIF)
text(138, 1093, "-", 20, family=SERIF)
text(153, 1066, "4U 1630-47", 22, family=SERIF, anchor="left")
text(153, 1091, "H 1743-322 RISE 2003", 22, family=SERIF, anchor="left")

# panel 6 key
box(1007, 1312, 1306, 1390)
dot(1020, 1343, 5, RED)
dot(1020, 1366, 5, NAVY)
text(1038, 1345, "-", 20, family=SERIF)
text(1038, 1368, "-", 20, family=SERIF)
text(1052, 1342, "4U 1630-47 RISE 1998", 22, family=SERIF, anchor="left")
text(1052, 1366, "H 1743-322 RISE 2003", 22, family=SERIF, anchor="left")

# panel 2 key table
box(1156, 165, 1346, 434, width=1.2)
shapes.append(dict(type="line", xref="paper", yref="paper", x0=px(1193), x1=px(1193),
                   y0=py(165), y1=py(434), line=dict(color=INK, width=1.2)))
shapes.append(dict(type="line", xref="paper", yref="paper", x0=px(1156), x1=px(1346),
                   y0=py(239), y1=py(239), line=dict(color=INK, width=1.2)))
text(1224, 202, "4U1630", 14, family=SANS)
text(1306, 202, "XTEJ1550", 14, family=SANS)
text(1176, 273, "C", 24, family=SANS)
text(1176, 335, "B", 24, family=SANS)
text(1176, 398, "A", 24, family=SANS)

fig.update_layout(annotations=ann, shapes=shapes)
fig.write_html("out.html")
